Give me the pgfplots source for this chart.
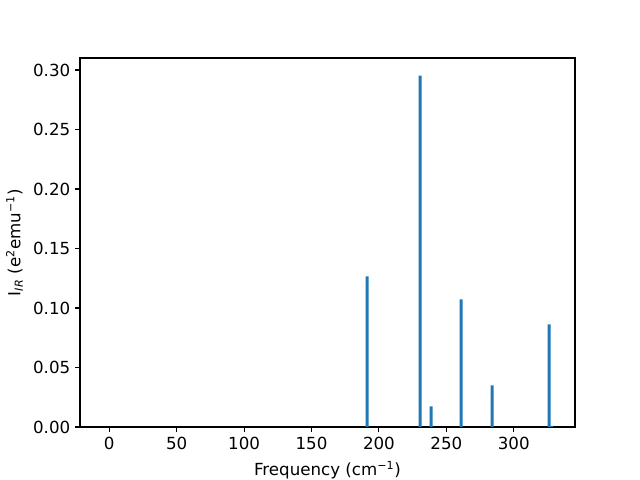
\documentclass[border=0pt]{standalone}
\usepackage{pgfplots}
\pgfplotsset{compat=1.18}
\usepackage{fontspec}
\setmainfont{DejaVu Sans}
\definecolor{C0}{HTML}{1F77B4}
\begin{document}
\begin{tikzpicture}
\useasboundingbox (0,0) rectangle (460.8pt,345.6pt);
\begin{axis}[
  at={(57.6pt,38.16pt)}, anchor=south west,
  scale only axis, width=356.4pt, height=265.7pt,
  xmin=-21.65, xmax=345.4, ymin=0, ymax=0.3101,
  xtick={0,50,...,300}, ytick={0,0.05,...,0.30},
  yticklabel style={/pgf/number format/.cd, fixed, fixed zerofill, precision=2},
  /pgf/number format/assume math mode=true,
  tick align=outside, major tick length=3.5pt,
  xtick pos=bottom, ytick pos=left,
  tick style={black, line width=0.8pt},
  axis line style={line width=0.8pt},
  ticklabel style={font=\fontsize{12}{14}\selectfont},
  label style={font=\fontsize{12}{14}\selectfont},
  xlabel={Frequency (cm\textsuperscript{−1})},
  ylabel={I\textsubscript{\textit{IR}} (e\textsuperscript{2}emu\textsuperscript{−1})},
  xlabel style={yshift=-2pt},
  ylabel style={yshift=0.5pt},
]
\addplot[ybar, bar width=2.2, fill=C0, draw=none] coordinates {
 (191.3,0.1265) (230.6,0.2953) (238.7,0.0174) (261.0,0.1072)
 (284.0,0.0350) (326.2,0.0862) (328.1,0.0010)
};
\end{axis}
\end{tikzpicture}
\end{document}
